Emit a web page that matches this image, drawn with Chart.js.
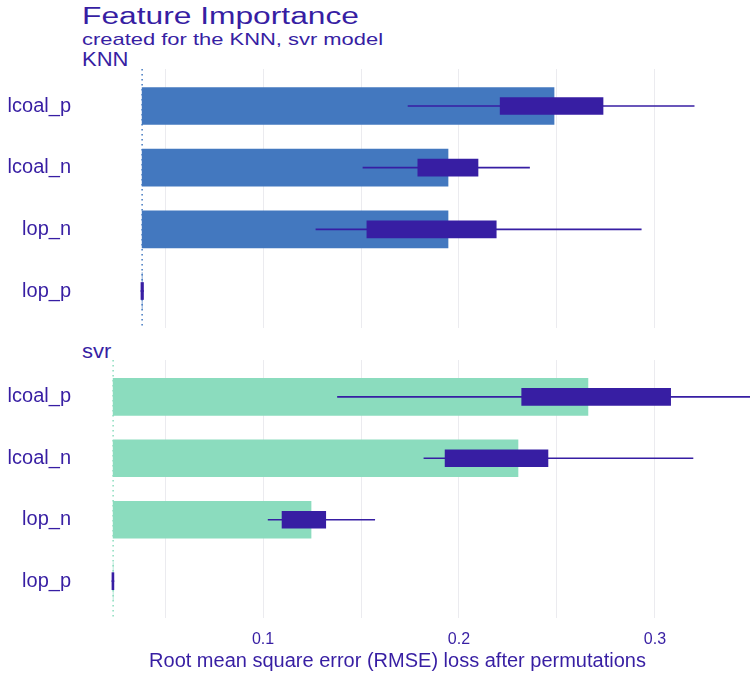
<!DOCTYPE html>
<html lang="en">
<head>
    <meta charset="UTF-8">
    <title>Feature Importance</title>
    <style>
        body {
            margin: 0;
            padding: 0;
            background-color: #ffffff;
            font-family: Arial, "Liberation Sans", sans-serif;
            color: #371ea3;
        }
        .page {
            position: relative;
            width: 750px;
            height: 673px;
            overflow: hidden;
        }
        .label {
            position: absolute;
            white-space: nowrap;
            line-height: 1;
            transform-origin: left top;
        }
        .title { left: 82px; top: 5px; font-size: 23px; transform: scaleX(1.38); }
        .subtitle { left: 82px; top: 31px; font-size: 17px; transform: scaleX(1.29); }
        .strip { left: 82px; font-size: 20px; transform: scaleX(1.1); }
        .axis-title { left: 0; width: 795px; text-align: center; top: 650px; font-size: 20px; }
        .panel { position: absolute; left: 0; width: 750px; }
    </style>
</head>
<body>
<div class="page">
    <div class="label title">Feature Importance</div>
    <div class="label subtitle">created for the KNN, svr model</div>
    <div class="label strip" style="top: 49px;">KNN</div>
    <div class="label strip" style="top: 341px;">svr</div>

    <div class="panel" style="top: 69px; height: 259px;"><canvas id="knnChart"></canvas></div>
    <div class="panel" style="top: 360px; height: 313px;"><canvas id="svrChart"></canvas></div>

    <div class="label axis-title">Root mean square error (RMSE) loss after permutations</div>
</div>

<script src="https://cdn.jsdelivr.net/npm/chart.js"></script>
<script>
    const features = ['lcoal_p', 'lcoal_n', 'lop_n', 'lop_p'];
    const xTicks = [0.05, 0.1, 0.15, 0.2, 0.25, 0.3];

    // KNN: full model loss and permutation dropout losses
    const knnBaseline = 0.0383;
    const knnLoss = [0.2485, 0.1944, 0.1944, 0.0383];
    const knnBoxLow = [0.221, 0.179, 0.153, 0.0377];
    const knnBoxHigh = [0.2735, 0.2097, 0.219, 0.0390];
    const knnWhiskLow = [0.174, 0.151, 0.127, 0.0377];
    const knnWhiskHigh = [0.320, 0.236, 0.293, 0.0390];

    // svr
    const svrBaseline = 0.0235;
    const svrLoss = [0.2658, 0.2301, 0.1245, 0.0235];
    const svrBoxLow = [0.232, 0.1929, 0.1097, 0.0229];
    const svrBoxHigh = [0.308, 0.2454, 0.132, 0.0239];
    const svrWhiskLow = [0.138, 0.1821, 0.1026, 0.0229];
    const svrWhiskHigh = [0.362, 0.3194, 0.157, 0.0239];

    const textColor = '#371ea3';
    const boxColor = '#371ea3';
    const gridColor = '#ebebef';
    const fontFamily = 'Arial, "Liberation Sans", sans-serif';

    function ranges(low, high) {
        return features.map((f, i) => ({ x: [low[i], high[i]], y: i }));
    }

    // dotted vertical line at the full model loss
    function baselinePlugin(value, color) {
        return {
            id: 'baseline',
            beforeDatasetsDraw(chart) {
                const { ctx, chartArea } = chart;
                const x = chart.scales.x.getPixelForValue(value);
                ctx.save();
                ctx.strokeStyle = color;
                ctx.lineWidth = 1.5;
                ctx.setLineDash([1.5, 3.5]);
                ctx.beginPath();
                ctx.moveTo(x, chartArea.top);
                ctx.lineTo(x, chartArea.bottom);
                ctx.stroke();
                ctx.restore();
            }
        };
    }

    function makePanel(id, barColor, baseline, loss, boxLow, boxHigh, whiskLow, whiskHigh, showAxis) {
        const bars = features.map(() => baseline);
        new Chart(document.getElementById(id), {
            type: 'bar',
            data: {
                datasets: [
                    { data: ranges(boxLow, boxHigh), backgroundColor: boxColor, barThickness: 17, grouped: false, order: 1 },
                    { data: ranges(whiskLow, whiskHigh), backgroundColor: boxColor, barThickness: 1, grouped: false, order: 2 },
                    { data: ranges(bars, loss), backgroundColor: barColor, barThickness: 37, grouped: false, order: 3 }
                ]
            },
            options: {
                indexAxis: 'y',
                responsive: true,
                maintainAspectRatio: false,
                animation: false,
                layout: { padding: 0 },
                plugins: {
                    legend: { display: false },
                    tooltip: { enabled: false }
                },
                scales: {
                    x: {
                        type: 'linear',
                        min: 0.0066,
                        max: 0.3485,
                        afterBuildTicks: s => { s.ticks = xTicks.map(v => ({ value: v })); },
                        afterFit: s => {
                            s.height = showAxis ? 55 : 0;
                            s.paddingLeft = 0;
                            s.paddingRight = 0;
                        },
                        grid: { color: gridColor, lineWidth: 1, drawTicks: false },
                        border: { display: false },
                        ticks: {
                            display: showAxis,
                            padding: 12,
                            color: textColor,
                            font: { family: fontFamily, size: 16 },
                            callback: v => Math.abs(v * 10 - Math.round(v * 10)) < 1e-6 ? v.toFixed(1) : ''
                        }
                    },
                    y: {
                        type: 'linear',
                        min: -0.6,
                        max: 3.6,
                        reverse: true,
                        offset: false,
                        afterBuildTicks: s => { s.ticks = features.map((f, i) => ({ value: i })); },
                        afterFit: s => {
                            s.width = 80;
                            s.paddingTop = 0;
                            s.paddingBottom = 0;
                        },
                        grid: { display: false, drawTicks: false },
                        border: { display: false },
                        ticks: {
                            padding: 9,
                            color: textColor,
                            font: { family: fontFamily, size: 20 },
                            callback: v => features[Math.round(v)]
                        }
                    }
                }
            },
            plugins: [baselinePlugin(baseline, barColor)]
        });
    }

    makePanel('knnChart', '#4378bf', knnBaseline, knnLoss, knnBoxLow, knnBoxHigh, knnWhiskLow, knnWhiskHigh, false);
    makePanel('svrChart', '#8bdcbe', svrBaseline, svrLoss, svrBoxLow, svrBoxHigh, svrWhiskLow, svrWhiskHigh, true);
</script>
</body>
</html>
